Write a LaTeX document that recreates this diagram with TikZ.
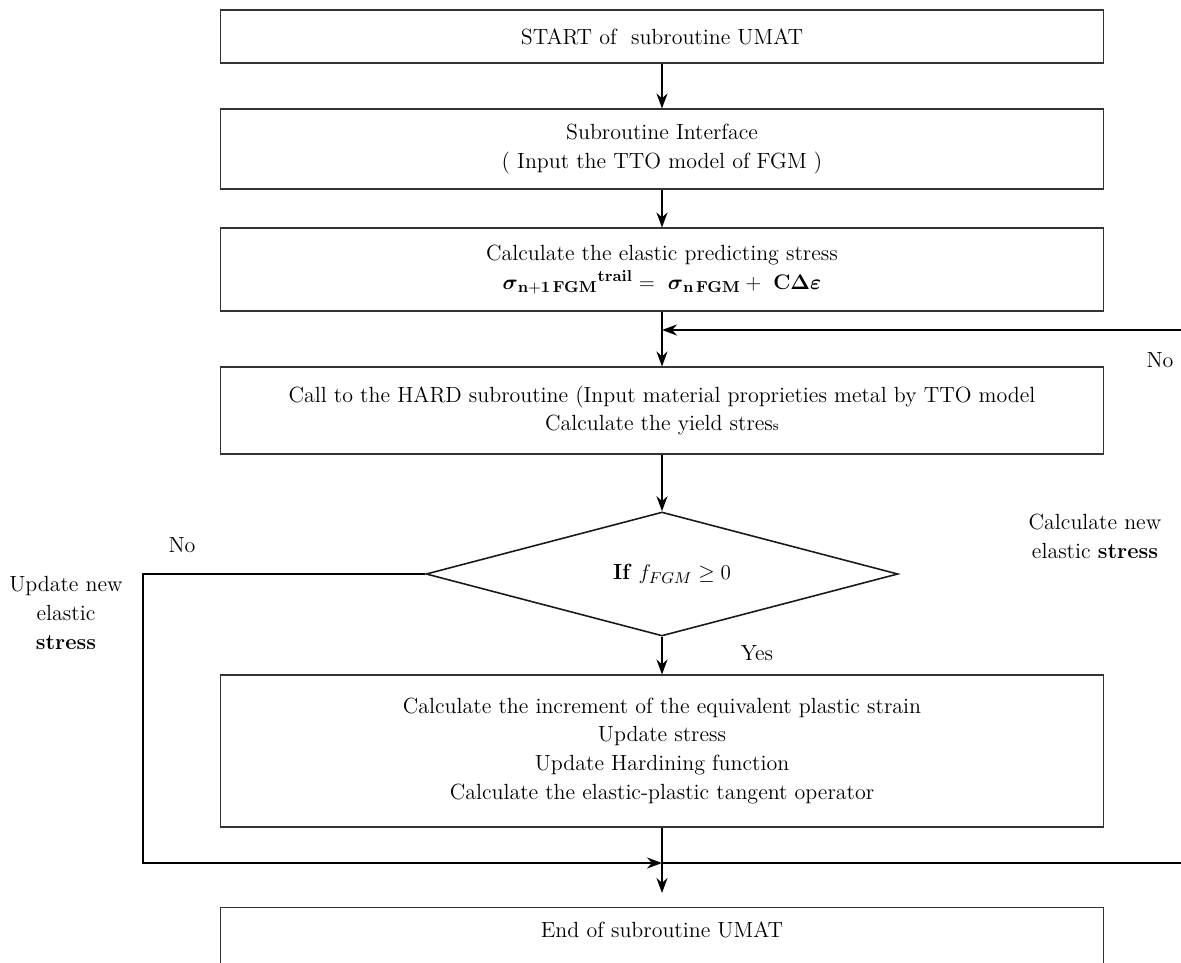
\documentclass[tikz,border=0pt]{standalone}
\usepackage{amsmath}
\usetikzlibrary{shapes.geometric,arrows.meta}

\begin{document}
\begin{tikzpicture}[x=0.02cm,y=-0.02cm,font=\fontsize{12.5}{16.5}\selectfont,>={Stealth[length=0.3cm,width=0.22cm]},
	stepbox/.style={draw=black!80,line width=0.6pt,minimum width=17.68cm,align=center,inner sep=0pt},
	testbox/.style={draw=black!90,diamond,line width=0.9pt,minimum width=9.44cm,minimum height=2.48cm,inner sep=0pt},
	flow/.style={->,line width=1.1pt}]
	\useasboundingbox (0,0) rectangle (1181,963);
	\clip (0,0) rectangle (1181,963);
	% main column
	\node[stepbox,minimum height=1.06cm] (start) at (662,36.5) {START of~ subroutine UMAT};
	\node[stepbox,minimum height=1.6cm] (iface) at (662,149) {Subroutine Interface\\( Input the TTO model of FGM )};
	\node[stepbox,minimum height=1.66cm] (predict) at (662,269.5) {Calculate the elastic predicting stress\\
		$\boldsymbol{\sigma}_{\mathbf{n+1\,FGM}}{}^{\mathbf{trail}} =\ \boldsymbol{\sigma}_{\mathbf{n\,FGM}} +\ \mathbf{C\Delta}\boldsymbol{\varepsilon}$};
	\node[stepbox,minimum height=1.74cm] (hard) at (662,410.5) {Call to the HARD subroutine (Input material proprieties metal by TTO model\\Calculate the yield stres{\footnotesize s}};
	\node[testbox] (test) at (662,574) {\makebox[0pt]{\hspace{0.4cm}\textbf{If} $f_{FGM} \geq 0$}};
	\node[stepbox,minimum height=3.04cm] (update) at (662,751) {Calculate the increment of the equivalent plastic strain\\Update stress\\Update Hardining function\\Calculate the elastic-plastic tangent operator};
	\node[stepbox,minimum height=2cm,anchor=north] (umatend) at (662,907) {};
	\node (endtxt) at (662,930) {End of subroutine UMAT};
	\coordinate (loopin) at (662,330);
	\coordinate (merge) at (662,863);
	% arrows
	\draw[flow] (start) -- (iface);
	\draw[flow] (iface) -- (predict);
	\draw[flow] (predict) -- (hard);
	\draw[flow] (hard) -- (test);
	\draw[flow] (test) -- (update);
	\draw[flow,shorten >=0.28cm] (update) -- (umatend);
	\draw[flow] (test.west) -- ++(-282,0) |- (merge);
	\draw[flow] (merge) -- ++(540,0) |- (loopin);
	% labels
	\node (noright) at (1160,360) {No};
	\node (noleft) at (182,545) {No};
	\node (yes) at (757,653) {Yes};
	\node[align=center] (newcalc) at (1095,536) {Calculate new\\elastic \textbf{stress}};
	\node[align=center] (newupd) at (66,613) {Update new\\elastic\\\textbf{stress}};
\end{tikzpicture}
\end{document}
